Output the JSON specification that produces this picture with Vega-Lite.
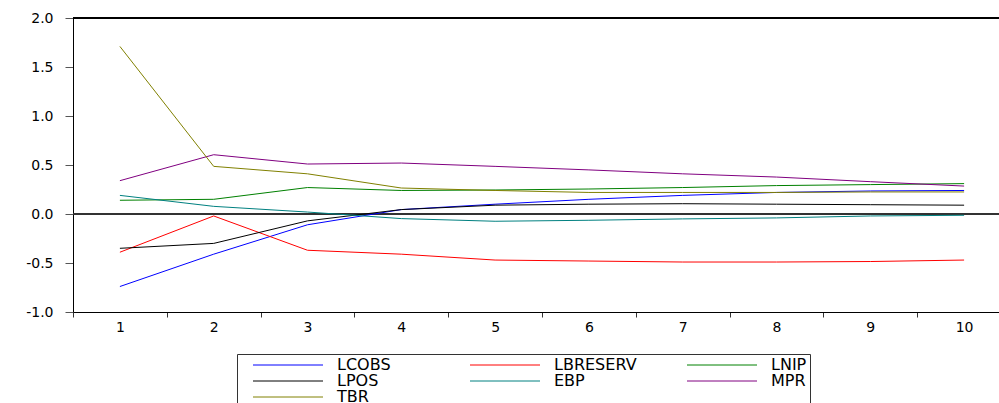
{
  "$schema": "https://vega.github.io/schema/vega-lite/v6.json",
  "width": 926,
  "height": 294,
  "autosize": {"type": "none"},
  "padding": {"left": 73, "top": 18, "right": 0, "bottom": 91},
  "background": "white",
  "config": {"view": {"stroke": null}, "font": "DejaVu Sans"},
  "data": {
    "values": [
      {"h": 1, "s": "LCOBS", "v": -0.74}, {"h": 2, "s": "LCOBS", "v": -0.41}, {"h": 3, "s": "LCOBS", "v": -0.11}, {"h": 4, "s": "LCOBS", "v": 0.045}, {"h": 5, "s": "LCOBS", "v": 0.10}, {"h": 6, "s": "LCOBS", "v": 0.15}, {"h": 7, "s": "LCOBS", "v": 0.19}, {"h": 8, "s": "LCOBS", "v": 0.22}, {"h": 9, "s": "LCOBS", "v": 0.235}, {"h": 10, "s": "LCOBS", "v": 0.24},
      {"h": 1, "s": "LBRESERV", "v": -0.39}, {"h": 2, "s": "LBRESERV", "v": -0.02}, {"h": 3, "s": "LBRESERV", "v": -0.37}, {"h": 4, "s": "LBRESERV", "v": -0.41}, {"h": 5, "s": "LBRESERV", "v": -0.47}, {"h": 6, "s": "LBRESERV", "v": -0.48}, {"h": 7, "s": "LBRESERV", "v": -0.49}, {"h": 8, "s": "LBRESERV", "v": -0.49}, {"h": 9, "s": "LBRESERV", "v": -0.485}, {"h": 10, "s": "LBRESERV", "v": -0.47},
      {"h": 1, "s": "LNIP", "v": 0.14}, {"h": 2, "s": "LNIP", "v": 0.15}, {"h": 3, "s": "LNIP", "v": 0.27}, {"h": 4, "s": "LNIP", "v": 0.24}, {"h": 5, "s": "LNIP", "v": 0.245}, {"h": 6, "s": "LNIP", "v": 0.255}, {"h": 7, "s": "LNIP", "v": 0.27}, {"h": 8, "s": "LNIP", "v": 0.29}, {"h": 9, "s": "LNIP", "v": 0.30}, {"h": 10, "s": "LNIP", "v": 0.31},
      {"h": 1, "s": "LPOS", "v": -0.35}, {"h": 2, "s": "LPOS", "v": -0.30}, {"h": 3, "s": "LPOS", "v": -0.07}, {"h": 4, "s": "LPOS", "v": 0.045}, {"h": 5, "s": "LPOS", "v": 0.09}, {"h": 6, "s": "LPOS", "v": 0.10}, {"h": 7, "s": "LPOS", "v": 0.105}, {"h": 8, "s": "LPOS", "v": 0.10}, {"h": 9, "s": "LPOS", "v": 0.095}, {"h": 10, "s": "LPOS", "v": 0.09},
      {"h": 1, "s": "EBP", "v": 0.19}, {"h": 2, "s": "EBP", "v": 0.078}, {"h": 3, "s": "EBP", "v": 0.02}, {"h": 4, "s": "EBP", "v": -0.047}, {"h": 5, "s": "EBP", "v": -0.074}, {"h": 6, "s": "EBP", "v": -0.064}, {"h": 7, "s": "EBP", "v": -0.05}, {"h": 8, "s": "EBP", "v": -0.04}, {"h": 9, "s": "EBP", "v": -0.02}, {"h": 10, "s": "EBP", "v": -0.013},
      {"h": 1, "s": "MPR", "v": 0.34}, {"h": 2, "s": "MPR", "v": 0.605}, {"h": 3, "s": "MPR", "v": 0.51}, {"h": 4, "s": "MPR", "v": 0.52}, {"h": 5, "s": "MPR", "v": 0.486}, {"h": 6, "s": "MPR", "v": 0.45}, {"h": 7, "s": "MPR", "v": 0.41}, {"h": 8, "s": "MPR", "v": 0.377}, {"h": 9, "s": "MPR", "v": 0.33}, {"h": 10, "s": "MPR", "v": 0.285},
      {"h": 1, "s": "TBR", "v": 1.71}, {"h": 2, "s": "TBR", "v": 0.486}, {"h": 3, "s": "TBR", "v": 0.41}, {"h": 4, "s": "TBR", "v": 0.265}, {"h": 5, "s": "TBR", "v": 0.24}, {"h": 6, "s": "TBR", "v": 0.22}, {"h": 7, "s": "TBR", "v": 0.22}, {"h": 8, "s": "TBR", "v": 0.22}, {"h": 9, "s": "TBR", "v": 0.225}, {"h": 10, "s": "TBR", "v": 0.225}
    ]
  },
  "layer": [
    {
      "mark": {"type": "rule", "color": "#333333", "strokeWidth": 1},
      "encoding": {"y": {"datum": 0, "type": "quantitative", "title": null}}
    },
    {
      "mark": {"type": "line", "strokeWidth": 1},
      "encoding": {
        "x": {
          "field": "h",
          "type": "ordinal",
          "scale": {"type": "band", "paddingInner": 0, "paddingOuter": 0, "range": [0, 938]},
          "axis": {
            "title": null,
            "labelAngle": 0,
            "tickBand": "extent",
            "domainColor": "#000000",
            "tickColor": "#333333",
            "tickSize": 5,
            "labelFontSize": 14,
            "labelColor": "#000000",
            "labelPadding": 3
          }
        },
        "y": {
          "field": "v",
          "type": "quantitative",
          "scale": {"domain": [-1, 2], "nice": false, "zero": false},
          "axis": {
            "title": null,
            "values": [-1, -0.5, 0, 0.5, 1, 1.5, 2],
            "labelExpr": "replace(format(datum.value, '.1f'), '−', '-')",
            "grid": false,
            "tickSize": 8,
            "tickColor": "#555555",
            "domainColor": "#000000",
            "labelFontSize": 14,
            "labelColor": "#000000",
            "labelPadding": 12
          }
        },
        "color": {
          "field": "s",
          "type": "nominal",
          "scale": {
            "domain": ["LCOBS", "LBRESERV", "LNIP", "LPOS", "EBP", "MPR", "TBR"],
            "range": ["#0000ff", "#ff0000", "#008000", "#000000", "#008080", "#800080", "#808000"]
          },
          "legend": {
            "title": null,
            "orient": "none",
            "legendX": 164,
            "legendY": 336,
            "direction": "horizontal",
            "columns": 3,
            "symbolType": "M0,0H70",
            "symbolSize": 4,
            "symbolStrokeWidth": 1,
            "labelFontSize": 16,
            "labelColor": "#000000",
            "labelOffset": 76,
            "labelLimit": 0,
            "padding": 3,
            "symbolOffset": 5,
            "rowPadding": 0,
            "columnPadding": 37,
            "gridAlign": "all",
            "strokeColor": "#333333",
            "fillColor": "#ffffff"
          }
        }
      }
    },
    {
      "mark": {"type": "rule", "color": "#000000", "strokeWidth": 1},
      "encoding": {"y": {"datum": 2, "type": "quantitative", "title": null}}
    }
  ]
}
